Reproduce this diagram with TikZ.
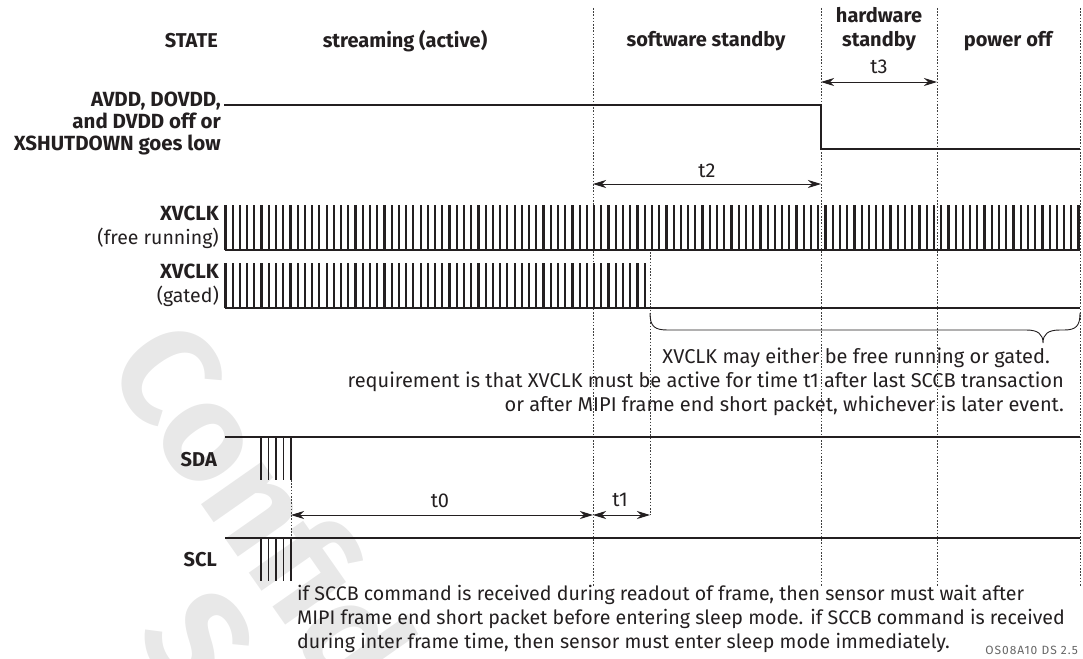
\documentclass[tikz,border=0pt]{standalone}
\usepackage{fontspec}
\setmainfont{Fira Sans}
\usetikzlibrary{arrows.meta}
\tikzstyle{diagram} = [x = 1pt, y = -1pt]
\definecolor{inkColor}{RGB}{35,31,32}
\definecolor{markColor}{RGB}{232,232,232}
\tikzstyle{signalLine} = [color=inkColor, line width=2pt]
\tikzstyle{clockLine} = [color=inkColor, line width=1.4pt]
\tikzstyle{burstLine} = [color=inkColor, line width=1.8pt]
\tikzstyle{phaseLine} = [color=black!75, line width=0.8pt, dash pattern=on 1.6pt off 1.6pt]
\tikzstyle{braceLine} = [color=inkColor, line width=0.9pt]
\tikzstyle{timeArrow} = [color=inkColor, line width=0.9pt, {Stealth[length=13pt, width=8pt, inset=4pt]}-{Stealth[length=13pt, width=8pt, inset=4pt]}]
\tikzstyle{stateText} = [text=inkColor, inner sep=0, font=\bfseries\fontsize{20}{24}\selectfont, align=center]
\tikzstyle{signalText} = [text=inkColor, inner sep=0, anchor=east, align=right, font=\fontsize{19.5}{24}\selectfont]
\tikzstyle{noteText} = [text=inkColor, inner sep=0, font=\fontsize{20}{24}\selectfont]
\tikzstyle{watermarkText} = [text=markColor, inner sep=0, font=\bfseries\fontsize{140}{140}\selectfont]
\newcommand{\clockPeriod}{7.23}
\newcommand{\pulseWidth}{0.8}
\newcommand{\clockPulses}[4]{
  \foreach \pulse in {1,...,#2} {
    \pgfmathsetmacro{\riseX}{#1 + (\pulse - 1) * \clockPeriod}
    \draw [clockLine] (\riseX, #3) -- (\riseX, #4) -- ++(\pulseWidth, 0) -- (\riseX + \pulseWidth, #3);
  }
}
\newcommand{\busBurst}[2]{
  \foreach \bit in {0,...,4} {
    \draw [burstLine] (#1 + \bit * 7.5, #2) -- ++(0, 43);
  }
}
\begin{document}
\begin{tikzpicture}[diagram]
\useasboundingbox (0,0) rectangle (1083,658);
% watermark
\begin{scope}
  \clip (0,0) rectangle (1083,658);
  \node [watermarkText, rotate=-55, anchor=west] (markTop) at (150,335) {Confidential};
  \node [watermarkText, rotate=-55] (markBottom) at (198,640) {S};
\end{scope}
% phase borders
\foreach \border/\name in {593/swStart, 821/hwStart, 937/offStart, 1080/offEnd} {
  \coordinate (\name-top) at (\border, 8);
  \coordinate (\name-bottom) at (\border, 587);
  \draw [phaseLine] (\name-top) -- (\name-bottom);
}
\coordinate (busEnd-top) at (291, 480);
\coordinate (busEnd-bottom) at (291, 538);
\coordinate (gateEnd-top) at (650, 252);
\coordinate (gateEnd-bottom) at (650, 515);
\draw [phaseLine] (busEnd-top) -- (busEnd-bottom);
\draw [phaseLine] (gateEnd-top) -- (gateEnd-bottom);
% state row
\node [stateText, anchor=east] (stateLabel) at (218,41) {STATE};
\node [stateText] (streaming) at (405,41) {streaming (active)};
\node [stateText] (swStandby) at (706,41) {software standby};
\node [stateText] (hwStandby) at (879,29) {hardware\\standby};
\node [stateText] (powerOff) at (1008,41) {power off};
% power
\node [signalText, font=\bfseries\fontsize{20.5}{22}\selectfont] (powerLabel) at (221,123) {AVDD, DOVDD,\\and DVDD off or\\XSHUTDOWN goes low};
\draw [signalLine] (224,105) -- (821,105) -- (821,149) -- (1080,149);
% clocks
\node [signalText] (freeLabel) at (219,227) {{\bfseries\fontsize{20.5}{24}\selectfont XVCLK}\\(free running)};
\clockPulses{225}{119}{250}{206}
\draw [signalLine] (225,250) -- (1080,250);
\node [signalText] (gatedLabel) at (219,285) {{\bfseries\fontsize{20.5}{24}\selectfont XVCLK}\\(gated)};
\clockPulses{225}{59}{308}{264}
\draw [signalLine] (225,308) -- (1080,308);
% brace and notes
\draw [braceLine] (650,313) .. controls (650,327) and (655,330) .. (668,330) -- (1026,330) .. controls (1038,330) and (1043,334) .. (1043,343) .. controls (1043,334) and (1048,330) .. (1060,330) -- (1064,330) .. controls (1076,330) and (1080,326) .. (1080,313);
\node [noteText, anchor=east] (clockNote) at (1050,358) {XVCLK may either be free running or gated.};
\node [noteText, anchor=east, align=right] (timeNote) at (1064,394) {requirement is that XVCLK must be active for time t1 after last SCCB transaction\\or after MIPI frame end short packet, whichever is later event.};
% sccb bus
\node [signalText, font=\bfseries\fontsize{20}{24}\selectfont] (sdaLabel) at (217,460) {SDA};
\draw [signalLine] (225,437) -- (1080,437);
\busBurst{261}{437}
\node [signalText, font=\bfseries\fontsize{20}{24}\selectfont] (sclLabel) at (217,560) {SCL};
\draw [signalLine] (225,538) -- (1080,538);
\busBurst{261}{538}
\node [noteText, anchor=west, align=left, font=\fontsize{19.6}{24}\selectfont] (sleepNote) at (297,619) {if SCCB command is received during readout of frame, then sensor must wait after\\MIPI frame end short packet before entering sleep mode. if SCCB command is received\\during inter frame time, then sensor must enter sleep mode immediately.};
\node [text=black!60, inner sep=0, anchor=east, font=\fontsize{12}{14}\selectfont\addfontfeatures{LetterSpace=8}] (figureId) at (1078,650) {OS08A10 DS 2.5};
% timings
\coordinate (t3-left) at (821,82);
\coordinate (t3-right) at (937,82);
\coordinate (t2-left) at (593,184);
\coordinate (t2-right) at (821,184);
\coordinate (t0-left) at (291,515);
\coordinate (t0-right) at (593,515);
\coordinate (t1-right) at (650,515);
\draw [timeArrow] (t3-left) -- (t3-right);
\draw [timeArrow] (t2-left) -- (t2-right);
\draw [timeArrow] (t0-left) -- (t0-right);
\draw [timeArrow] (t0-right) -- (t1-right);
\node [noteText] (t3Label) at (879,67) {t3};
\node [noteText] (t2Label) at (707,171) {t2};
\node [noteText] (t0Label) at (440,501) {t0};
\node [noteText] (t1Label) at (620,500) {t1};
\end{tikzpicture}
\end{document}
